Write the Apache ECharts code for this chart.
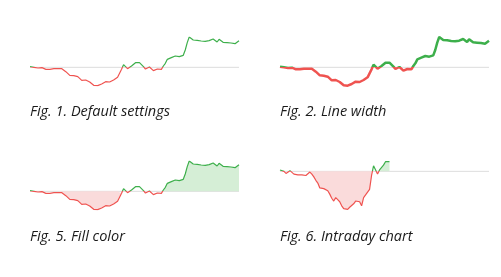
<!DOCTYPE html>
<html>
<head>
<meta charset="utf-8">
<script src="https://cdn.jsdelivr.net/npm/echarts@6/dist/echarts.min.js"></script>
<style>
html,body{margin:0;padding:0;background:#fff;}
#c{width:501px;height:277px;}
</style>
</head>
<body>
<div id="c"></div>
<script>
// Intraday price series (index = time step)
var prices = [50.04,50.02,50.00,49.94,49.96,50.02,49.98,49.92,49.88,49.90,
  49.88,49.90,49.92,49.88,49.92,49.98,49.92,49.84,49.74,49.66,
  49.52,49.48,49.50,49.48,49.44,49.34,49.22,49.14,49.24,49.18,
  49.12,49.00,48.92,48.88,48.90,48.96,49.00,49.06,49.14,49.16,
  49.12,49.00,49.24,49.32,49.40,49.48,49.88,50.16,50.18,49.92,
  50.04,50.08,50.18,50.28,50.30,50.28,50.20,50.04,49.90,50.02,
  50.02,49.92,49.80,49.78,49.90,49.94,49.88,50.08,50.24,50.48,
  50.56,50.58,50.64,50.68,50.60,50.64,50.64,50.72,51.04,51.48,
  51.82,51.74,51.64,51.68,51.62,51.68,51.58,51.60,51.56,51.64,
  51.60,51.52,51.70,51.64,51.52,51.68,51.56,51.50,51.52,51.48,
  51.50,51.46,51.40,51.42,51.54,51.60];
var baseline = 50.00;          // reference (previous close)
var intradayCount = 56;        // points available so far in Fig. 6
var captions = ['Fig. 1. Default settings','Fig. 2. Line width','Fig. 5. Fill color','Fig. 6. Intraday chart'];
// fill ranges (start index, end index) for Fig. 5 and Fig. 6
var fillFig5 = {red:[15,46], green:[67,105]};
var fillFig6 = {red:[15,46], green:[50,55]};

var RED = '#ef5350', GREEN = '#3daf4b', RED_FILL = '#fadbdb', GREEN_FILL = '#d5eed6', GRAY = '#dddddd';
var lastIndex = prices.length - 1;

function pairs(arr, from, to){
  var out = [];
  for (var i = from; i <= to; i++) out.push([i, arr[i]]);
  return out;
}

var grids = [
  {left:30, top:37, width:209, height:49},
  {left:280, top:37, width:209, height:49},
  {left:30, top:161, width:209, height:49},
  {left:280, top:161, width:209, height:49}
];
var xAxes = [], yAxes = [], series = [], visualMaps = [];
var lineWidths = [1.2, 2.5, 1.2, 1.2];
var counts = [prices.length, prices.length, prices.length, intradayCount];
var fills = [null, null, fillFig5, fillFig6];

grids.forEach(function(g, k){
  xAxes.push({type:'value', gridIndex:k, min:0, max:lastIndex, show:false});
  yAxes.push({type:'value', gridIndex:k, min:'dataMin', max:'dataMax', show:false, scale:true});
  // baseline
  series.push({type:'line', xAxisIndex:k, yAxisIndex:k, symbol:'none', silent:true, z:1,
    data:[[0, baseline],[lastIndex, baseline]], lineStyle:{color:GRAY, width:1}});
  var f = fills[k];
  if (f){
    series.push({type:'line', xAxisIndex:k, yAxisIndex:k, symbol:'none', silent:true, z:2,
      data:pairs(prices, f.red[0], f.red[1]), lineStyle:{width:0, opacity:0},
      areaStyle:{color:RED_FILL, opacity:1, origin:baseline}});
    series.push({type:'line', xAxisIndex:k, yAxisIndex:k, symbol:'none', silent:true, z:2,
      data:pairs(prices, f.green[0], f.green[1]), lineStyle:{width:0, opacity:0},
      areaStyle:{color:GREEN_FILL, opacity:1, origin:baseline}});
  }
  series.push({type:'line', xAxisIndex:k, yAxisIndex:k, symbol:'none', z:3,
    data:pairs(prices, 0, counts[k]-1), lineStyle:{width:lineWidths[k]}});
  visualMaps.push({type:'piecewise', show:false, dimension:1, seriesIndex:series.length-1,
    pieces:[{gte:0, lt:baseline, color:RED},{gte:baseline, lte:1000, color:GREEN}]});
});

var textPos = [[30,113],[280,113],[30,238],[280,238]];
var graphics = captions.map(function(t, i){
  return {type:'text', left:textPos[i][0], top:textPos[i][1]-9,
    style:{text:t, font:'italic 14.5px "Open Sans"', fill:'#1a1a1a'}};
});

var chart = echarts.init(document.getElementById('c'), null, {renderer:'canvas'});
chart.setOption({
  animation:false,
  grid:grids, xAxis:xAxes, yAxis:yAxes, series:series, visualMap:visualMaps,
  graphic:graphics
});
</script>
</body>
</html>
